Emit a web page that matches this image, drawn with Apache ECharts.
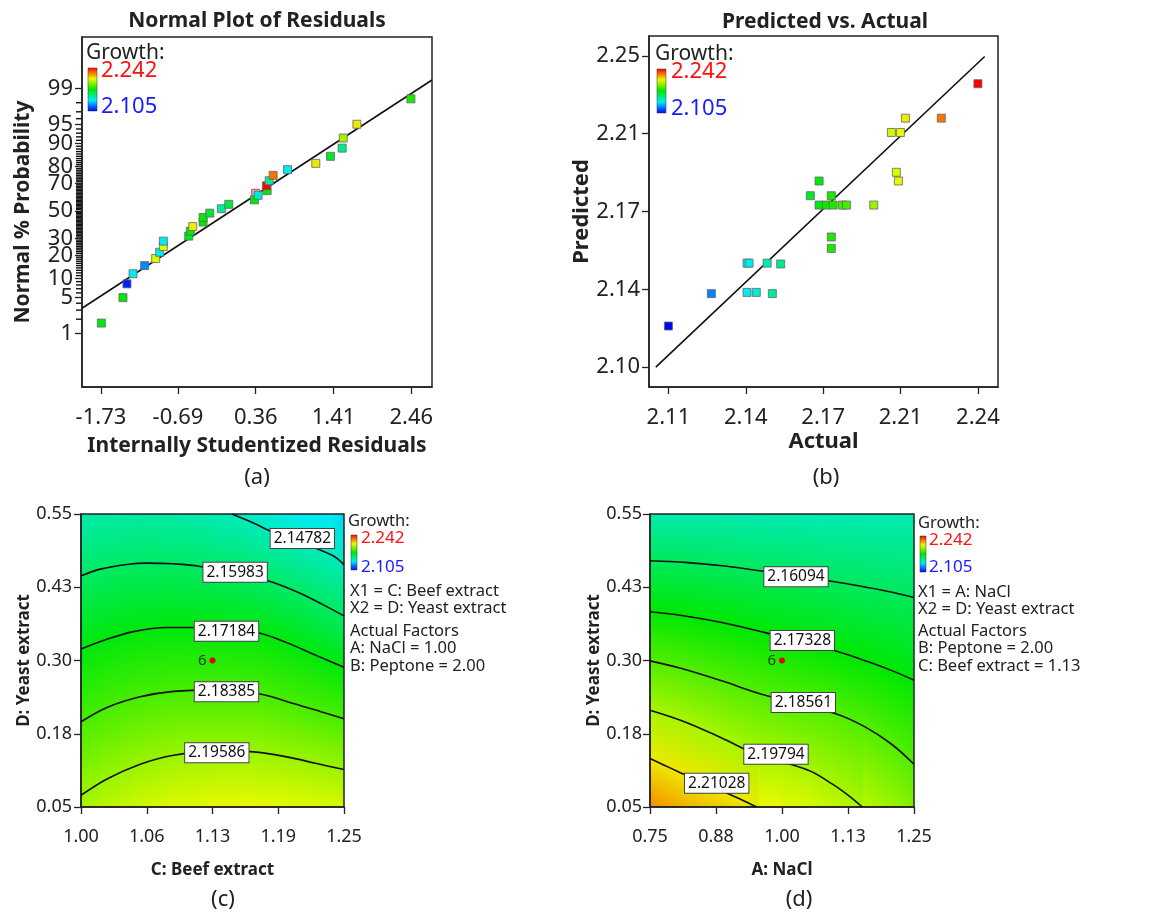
<!DOCTYPE html>
<html><head><meta charset="utf-8">
<script src="https://cdn.jsdelivr.net/npm/echarts@6/dist/echarts.min.js"></script>
<style>html,body{margin:0;padding:0;background:#fff}#c{width:1154px;height:915px}</style>
</head><body><div id="c"></div>
<script>
const FONT = '"Noto Sans", "DejaVu Sans", sans-serif';
const G_MIN = 2.105, G_MAX = 2.242;

// ---------- (a) Normal plot of residuals ----------
const resX = [-1.725,-1.433,-1.379,-1.297,-1.140,-0.991,-0.937,-0.888,-0.888,-0.545,-0.523,-0.491,-0.351,-0.351,-0.261,-0.104,-0.004,0.342,0.392,0.514,0.505,0.541,0.595,0.789,1.171,1.370,1.527,1.541,1.726,2.455];
const resP = [1.67,5,8.33,11.67,15,18.33,21.67,25,28.33,31.67,35,38.33,41.67,45,48.33,51.67,55,58.33,61.67,65,68.33,71.67,75,78.33,81.67,85,88.33,91.67,95,98.33];
const resG = [2.170,2.172,2.110,2.140,2.125,2.205,2.141,2.207,2.140,2.168,2.172,2.209,2.172,2.173,2.167,2.152,2.165,2.173,2.144,2.173,2.242,2.151,2.226,2.140,2.210,2.168,2.154,2.196,2.210,2.177];
const hiddenX = [0.360], hiddenP = [63.1];
const resLineX = [-1.986, 2.74], resLineP = [3.25, 99.35];
const resXTicks = [-1.73,-0.69,0.36,1.41,2.46];
const resXLabels = ['-1.73','-0.69','0.36','1.41','2.46'];
const probMajor = [1,5,10,20,30,50,70,80,90,95,99];
const probMajorLabels = ['1','5','10','20','30','50','70','80','90','95','99'];
const probMinor = [2,3,4,6,7,8,9,11,12,13,14,15,16,17,18,19,21,22,23,24,25,26,27,28,29,31,32,33,34,35,36,37,38,39,40,41,42,43,44,45,46,47,48,49,51,52,53,54,55,56,57,58,59,60,61,62,63,64,65,66,67,68,69,71,72,73,74,75,76,77,78,79,81,82,83,84,85,86,87,88,89,91,92,93,94,96,97,98];

// ---------- (b) Predicted vs actual ----------
const actX  = [2.105,2.124,2.1398,2.1439,2.151,2.1398,2.1407,2.1487,2.1547,2.1678,2.1717,2.1717,2.1749,2.1771,2.1779,2.182,2.1838,2.1771,2.1771,2.1959,2.2037,2.2077,2.2099,2.2059,2.2068,2.2258,2.242];
const predY = [2.1198,2.1354,2.136,2.136,2.1354,2.1501,2.1501,2.1501,2.1497,2.1826,2.1897,2.1781,2.1781,2.1826,2.1781,2.1781,2.1781,2.1627,2.1572,2.1781,2.2131,2.2131,2.22,2.1939,2.1897,2.22,2.2366];
const diagX = [2.0994, 2.245], diagY = [2.10, 2.2497];
const bXTicks = [2.105,2.13925,2.1735,2.20775,2.242];
const bXLabels = ['2.11','2.14','2.17','2.21','2.24'];
const bYTicks = [2.10,2.1375,2.175,2.2125,2.25];
const bYLabels = ['2.10','2.14','2.17','2.21','2.25'];

// ---------- (c) contour: C Beef extract vs D Yeast extract ----------
const cXTicks = [1.0,1.0625,1.125,1.1875,1.25];
const cXLabels = ['1.00','1.06','1.13','1.19','1.25'];
const dYTicks = [0.05,0.175,0.30,0.425,0.55];
const dYLabels = ['0.05','0.18','0.30','0.43','0.55'];
const cLevels = ['2.14782','2.15983','2.17184','2.18385','2.19586'];
const cLine1 = [[1.1434,0.55],[1.1639,0.5346],[1.1829,0.5186],[1.2383,0.4799],[1.25,0.4633]];
const cLine2 = [[1.0,0.4445],[1.0184,0.4559],[1.0437,0.4639],[1.0627,0.4662],[1.0880,0.4651],[1.1133,0.4605],[1.1766,0.4365],[1.2082,0.4149],[1.2304,0.3949],[1.25,0.3761]];
const cLine3 = [[1.0,0.3197],[1.0247,0.3362],[1.0500,0.3493],[1.0816,0.3562],[1.1070,0.3562],[1.1386,0.3550],[1.1703,0.3465],[1.1956,0.3305],[1.2241,0.3083],[1.25,0.2883]];
const cLine4 = [[1.0,0.1954],[1.0247,0.2199],[1.0563,0.2381],[1.0880,0.2473],[1.1291,0.2495],[1.1703,0.2427],[1.2019,0.2267],[1.2272,0.2131],[1.25,0.2005]];
const cLine5 = [[1.0,0.0700],[1.0247,0.0979],[1.0563,0.1230],[1.0880,0.1384],[1.1291,0.1458],[1.1639,0.1441],[1.1956,0.1355],[1.2241,0.1241],[1.25,0.1139]];
const cLabelXY = [[1.2104,0.5084],[1.1465,0.4508],[1.1383,0.3499],[1.1383,0.2467],[1.1291,0.1424]];
const cCenter = [1.125, 0.30];

// ---------- (d) contour: A NaCl vs D Yeast extract ----------
const aXTicks = [0.75,0.875,1.0,1.125,1.25];
const aXLabels = ['0.75','0.88','1.00','1.13','1.25'];
const dLevels = ['2.16094','2.17328','2.18561','2.19794','2.21028'];
const dLine1 = [[0.75,0.4703],[0.8163,0.4674],[0.8920,0.4612],[0.9615,0.4526],[1.0877,0.4361],[1.1446,0.4276],[1.2014,0.4179],[1.25,0.4076]];
const dLine2 = [[0.75,0.3831],[0.8100,0.3769],[0.8857,0.3649],[0.9615,0.3490],[1.1004,0.3165],[1.1635,0.2977],[1.2140,0.2806],[1.25,0.2664]];
const dLine3 = [[0.75,0.2994],[0.8100,0.2863],[0.8857,0.2653],[0.9615,0.2425],[1.1004,0.2095],[1.1572,0.1867],[1.2077,0.1571],[1.25,0.1229]];
const dLine4 = [[0.75,0.2151],[0.8163,0.1952],[0.8857,0.1679],[0.9489,0.1411],[1.0499,0.1127],[1.0941,0.0899],[1.1256,0.0699],[1.1521,0.05]];
const dLine5 = [[0.75,0.1326],[0.7910,0.1155],[0.8226,0.1024],[0.9047,0.0699],[0.9362,0.0568],[0.9520,0.05]];
const dLabelXY = [[1.0265,0.4429],[1.0385,0.3342],[1.0404,0.2283],[0.9886,0.1400],[0.8763,0.0904]];
const dCenter = [1.0, 0.30];

// ---------- helpers ----------
function probit(p){
  const a=[-3.969683028665376e+01,2.209460984245205e+02,-2.759285104469687e+02,1.383577518672690e+02,-3.066479806614716e+01,2.506628277459239e+00];
  const b=[-5.447609879822406e+01,1.615858368580409e+02,-1.556989798598866e+02,6.680131188771972e+01,-1.328068155288572e+01];
  const c=[-7.784894002430293e-03,-3.223964580411365e-01,-2.400758277161838e+00,-2.549732539343734e+00,4.374664141464968e+00,2.938163982698783e+00];
  const d=[7.784695709041462e-03,3.224671290700398e-01,2.445134137142996e+00,3.754408661907416e+00];
  const pl=0.02425, ph=1-pl; let q,r;
  if(p<pl){q=Math.sqrt(-2*Math.log(p));return (((((c[0]*q+c[1])*q+c[2])*q+c[3])*q+c[4])*q+c[5])/((((d[0]*q+d[1])*q+d[2])*q+d[3])*q+1);}
  if(p<=ph){q=p-0.5;r=q*q;return (((((a[0]*r+a[1])*r+a[2])*r+a[3])*r+a[4])*r+a[5])*q/(((((b[0]*r+b[1])*r+b[2])*r+b[3])*r+b[4])*r+1);}
  q=Math.sqrt(-2*Math.log(1-p));return -(((((c[0]*q+c[1])*q+c[2])*q+c[3])*q+c[4])*q+c[5])/((((d[0]*q+d[1])*q+d[2])*q+d[3])*q+1);
}
const z = p => probit(p/100);
const RAMP = [[0,[0,0,255]],[0.25,[0,236,250]],[0.5,[0,232,0]],[0.75,[236,250,0]],[1,[255,0,0]]];
function cmap(g, alpha){
  let t=(g-G_MIN)/(G_MAX-G_MIN); t=Math.max(0,Math.min(1,t));
  let i=0; while(i<RAMP.length-2 && t>RAMP[i+1][0]) i++;
  const [t0,c0]=RAMP[i],[t1,c1]=RAMP[i+1]; const f=(t-t0)/(t1-t0);
  const c=c0.map((v,k)=>Math.round(v+(c1[k]-v)*f));
  return alpha===undefined?`rgb(${c})`:`rgba(${c},${alpha})`;
}
function nearestLabel(vals, labels){
  return v=>{let bi=0,bd=Infinity;vals.forEach((x,i)=>{const dd=Math.abs(x-v);if(dd<bd){bd=dd;bi=i;}});return labels[bi];};
}
const AX = '#222';
function ax(grid,min,max,ticks,labels,name,fs,nfs,gap,margin){
  return {type:'value',gridIndex:grid,min,max,name,nameLocation:'middle',nameGap:gap,
    nameTextStyle:{fontFamily:FONT,fontSize:nfs,fontWeight:'bold',color:AX},
    axisLine:{show:true,onZero:false,lineStyle:{color:AX,width:1.5}},
    axisTick:{show:true,length:7,customValues:ticks,lineStyle:{color:AX,width:1.3}},
    axisLabel:{customValues:ticks,formatter:nearestLabel(ticks,labels),fontFamily:FONT,fontSize:fs,color:AX,margin},
    splitLine:{show:false}};
}

// where each read contour crosses a given x (used only to colour the background)
function crossAt(lines, levels, x){
  const out=[];
  lines.forEach((ln,k)=>{
    for(let i=0;i<ln.length-1;i++){
      const [xa,ya]=ln[i],[xb,yb]=ln[i+1];
      if(x>=xa && x<=xb){ const f=(x-xa)/(xb-xa||1); out.push({d:ya+(yb-ya)*f,g:+levels[k]}); break; }
    }
  });
  return out.sort((p,q)=>q.d-p.d);
}
function bgRender(lines, levels){
  return function(params, api){
    const x0=api.value(0), y0=api.value(1), x1=api.value(2), y1=api.value(3);
    const N=88, children=[];
    for(let i=0;i<N;i++){
      const xa=x0+(x1-x0)*i/N, xb=x0+(x1-x0)*(i+1)/N, xm=(xa+xb)/2;
      const cr=crossAt(lines,levels,xm);
      if(cr.length<2) continue;
      const gTop=cr[0].g+(cr[1].g-cr[0].g)*(y1-cr[0].d)/(cr[1].d-cr[0].d);
      const n=cr.length;
      const gBot=cr[n-1].g+(cr[n-2].g-cr[n-1].g)*(y0-cr[n-1].d)/(cr[n-2].d-cr[n-1].d);
      const stops=[{offset:0,color:cmap(gTop)}];
      cr.forEach(c=>{const o=(y1-c.d)/(y1-y0); if(o>0&&o<1) stops.push({offset:o,color:cmap(c.g)});});
      stops.push({offset:1,color:cmap(gBot)});
      const pa=api.coord([xa,y1]), pb=api.coord([xb,y0]);
      const left=Math.floor(pa[0]), right=(i===N-1)?pb[0]:Math.ceil(pb[0])+1;
      children.push({type:'rect',shape:{x:left,y:pa[1],width:right-left,height:pb[1]-pa[1]},
        style:{fill:new echarts.graphic.LinearGradient(0,0,0,1,stops)}});
    }
    return {type:'group',children};
  };
}
// short minor tick marks just left of the probability axis (a)
function minorTickRender(params, api){
  const p = api.coord([api.value(0), api.value(1)]);
  return {type:'rect', shape:{x:p[0]-6, y:p[1]-0.7, width:5.5, height:1.4}, style:{fill:'#111'}};
}

const chart = echarts.init(document.getElementById('c'), null, {renderer:'canvas'});
const contourLine = (xi,yi,data)=>({type:'line',xAxisIndex:xi,yAxisIndex:yi,data,smooth:0.35,symbol:'none',z:3,
  lineStyle:{color:'#111',width:1.6},silent:true});
const labelSeries = (xi,yi,xy,levels)=>({type:'scatter',xAxisIndex:xi,yAxisIndex:yi,symbolSize:1,z:5,silent:true,
  itemStyle:{color:'#fff',opacity:1},
  data:xy.map((p,i)=>[p[0],p[1],levels[i]]),
  label:{show:true,position:'inside',formatter:p=>p.value[2],fontFamily:FONT,fontSize:15.5,color:'#111',opacity:1,
    backgroundColor:'#fff',borderColor:'#444',borderWidth:1,padding:[2,3,1,3]}});
const centerSeries = (xi,yi,pt)=>({type:'scatter',xAxisIndex:xi,yAxisIndex:yi,symbol:'circle',symbolSize:6,z:6,silent:true,
  itemStyle:{color:'#e00000',opacity:1},data:[pt],
  label:{show:true,position:'left',distance:3,formatter:'6',fontFamily:FONT,fontSize:15,color:'#1c401c'}});

const majorZ = probMajor.map(z);
const A_XMIN = -1.986;

const T = (text,x,y,fs,opt={})=>({type:'text',x,y,z:100,style:Object.assign({text,fontFamily:FONT,fontSize:fs,fill:'#222',
  align:opt.align||'left',verticalAlign:'middle',textAlign:opt.align||'left',textVerticalAlign:'middle',fontWeight:opt.w||'normal'},opt.style||{})});
const legendBar = (x,y,w,h)=>({type:'rect',z:100,shape:{x,y,width:w,height:h},style:{stroke:'#333',lineWidth:0.5,
  fill:new echarts.graphic.LinearGradient(0,0,0,1,[{offset:0,color:cmap(2.242)},{offset:0.25,color:cmap(2.208)},{offset:0.5,color:cmap(2.1735)},{offset:0.75,color:cmap(2.139)},{offset:1,color:cmap(2.105)}])}});

const option = {
  backgroundColor:'#fff',
  animation:false,
  grid:[
    {left:82,top:37,width:350,height:350,show:true,borderColor:AX,borderWidth:1.5},
    {left:649,top:36,width:349,height:351,show:true,borderColor:AX,borderWidth:1.5},
    {left:81,top:514,width:263,height:293,show:true,borderColor:AX,borderWidth:1.5},
    {left:650,top:514,width:264,height:293,show:true,borderColor:AX,borderWidth:1.5}
  ],
  xAxis:[
    ax(0,A_XMIN,2.74,resXTicks,resXLabels,'Internally Studentized Residuals',22,21,49,20),
    ax(1,2.0964,2.2509,bXTicks,bXLabels,'Actual',22,22,44,20),
    ax(2,1.0,1.25,cXTicks,cXLabels,'C: Beef extract',18,17,55,21),
    ax(3,0.75,1.25,aXTicks,aXLabels,'A: NaCl',18,17,55,21)
  ],
  yAxis:[
    ax(0,-3.34,3.30,majorZ,probMajorLabels,'Normal % Probability',22,21,48,9),
    ax(1,2.0904,2.2596,bYTicks,bYLabels,'Predicted',22,22,52,9),
    ax(2,0.05,0.55,dYTicks,dYLabels,'D: Yeast extract',18,17,42,9),
    ax(3,0.05,0.55,dYTicks,dYLabels,'D: Yeast extract',18,17,37,8)
  ],
  series:[
    // (a)
    {type:'custom',xAxisIndex:0,yAxisIndex:0,clip:false,silent:true,z:10,
      data:probMinor.map(p=>[A_XMIN,z(p)]),renderItem:minorTickRender},
    {type:'line',xAxisIndex:0,yAxisIndex:0,symbol:'none',z:2,lineStyle:{color:'#111',width:1.6},
      data:resLineX.map((x,i)=>[x,z(resLineP[i])])},
    {type:'scatter',xAxisIndex:0,yAxisIndex:0,symbol:'rect',symbolSize:8,z:3,
      itemStyle:{color:'#d8b4b4',borderColor:'#b05050',borderWidth:1,opacity:1},
      data:hiddenX.map((x,i)=>[x,z(hiddenP[i])])},
    {type:'scatter',xAxisIndex:0,yAxisIndex:0,symbol:'rect',symbolSize:8,z:4,
      itemStyle:{color:p=>cmap(p.value[2]),borderColor:'#666',borderWidth:0.8,opacity:1},
      data:resX.map((x,i)=>[x,z(resP[i]),resG[i]])},
    // (b)
    {type:'line',xAxisIndex:1,yAxisIndex:1,symbol:'none',z:2,lineStyle:{color:'#111',width:1.6},
      data:diagX.map((x,i)=>[x,diagY[i]])},
    {type:'scatter',xAxisIndex:1,yAxisIndex:1,symbol:'rect',symbolSize:8,z:4,
      itemStyle:{color:p=>cmap(p.value[0]),borderColor:'#666',borderWidth:0.8,opacity:1},
      data:actX.map((x,i)=>[x,predY[i]])},
    // (c)
    {type:'custom',xAxisIndex:2,yAxisIndex:2,z:-1,silent:true,data:[[1.0,0.05,1.25,0.55]],clip:true,
      renderItem:bgRender([cLine1,cLine2,cLine3,cLine4,cLine5],cLevels)},
    contourLine(2,2,cLine1),contourLine(2,2,cLine2),contourLine(2,2,cLine3),contourLine(2,2,cLine4),contourLine(2,2,cLine5),
    labelSeries(2,2,cLabelXY,cLevels),
    centerSeries(2,2,cCenter),
    // (d)
    {type:'custom',xAxisIndex:3,yAxisIndex:3,z:-1,silent:true,data:[[0.75,0.05,1.25,0.55]],clip:true,
      renderItem:bgRender([dLine1,dLine2,dLine3,dLine4,dLine5],dLevels)},
    contourLine(3,3,dLine1),contourLine(3,3,dLine2),contourLine(3,3,dLine3),contourLine(3,3,dLine4),contourLine(3,3,dLine5),
    labelSeries(3,3,dLabelXY,dLevels),
    centerSeries(3,3,dCenter)
  ],
  graphic:[
    T('Normal Plot of Residuals',257,21,21,{align:'center',w:'bold'}),
    T('Predicted vs. Actual',825,22,21,{align:'center',w:'bold'}),
    T('(a)',257,478,22,{align:'center'}),
    T('(b)',826,478,22,{align:'center'}),
    T('(c)',223,900,22,{align:'center'}),
    T('(d)',799,900,22,{align:'center'}),
    T('Growth:',86,53,21),
    legendBar(88,68,9,43),
    T('2.242',101,71,22,{style:{fill:'#ff1010'}}),
    T('2.105',101,107,22,{style:{fill:'#1a1aff'}}),
    T('Growth:',655,54,21),
    legendBar(657,69,9,44),
    T('2.242',671,72,22,{style:{fill:'#ff1010'}}),
    T('2.105',671,109,22,{style:{fill:'#1a1aff'}}),
    T('Growth:',348,521,16.5),
    legendBar(351,535,6,35),
    T('2.242',361,538,17,{style:{fill:'#ff1010'}}),
    T('2.105',361,567,17,{style:{fill:'#1a1aff'}}),
    T('X1 = C: Beef extract',350,591,16.5),
    T('X2 = D: Yeast extract',350,608.5,16.5),
    T('Actual Factors',350,631,16.5),
    T('A: NaCl = 1.00',350,648.5,16.5),
    T('B: Peptone = 2.00',350,666,16.5),
    T('Growth:',918,523,16.5),
    legendBar(920,536,6,36),
    T('2.242',929,540,17,{style:{fill:'#ff1010'}}),
    T('2.105',929,567,17,{style:{fill:'#1a1aff'}}),
    T('X1 = A: NaCl',918,592,16.5),
    T('X2 = D: Yeast extract',918,609,16.5),
    T('Actual Factors',918,631,16.5),
    T('B: Peptone = 2.00',918,648.5,16.5),
    T('C: Beef extract = 1.13',918,666,16.5)
  ]
};
chart.setOption(option);
</script></body></html>
